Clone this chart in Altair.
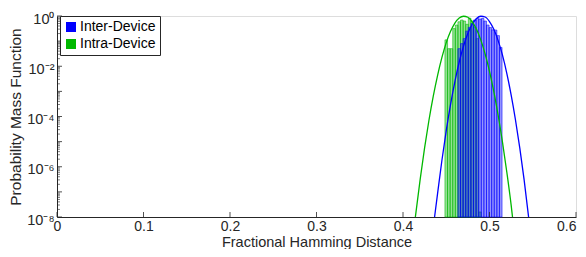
import altair as alt
import pandas as pd

# ---- data ----
inter_curve_x = [0.4365, 0.440, 0.445, 0.450, 0.455, 0.460, 0.465, 0.470, 0.475, 0.480,
                 0.485, 0.490, 0.495, 0.500, 0.505, 0.510, 0.515, 0.520, 0.525, 0.530,
                 0.535, 0.540, 0.5452]
inter_curve_log = [-8.0, -7.06, -5.74, -4.56, -3.52, -2.61, -1.83, -1.20, -0.69, -0.33,
                   -0.10, -0.01, -0.04, -0.22, -0.53, -0.98, -1.56, -2.28, -3.14, -4.13,
                   -5.25, -6.51, -8.0]

intra_curve_x = [0.4143, 0.420, 0.425, 0.430, 0.435, 0.440, 0.445, 0.450, 0.455, 0.460,
                 0.465, 0.470, 0.475, 0.480, 0.485, 0.490, 0.495, 0.500, 0.505, 0.510,
                 0.515, 0.520, 0.525, 0.5266]
intra_curve_log = [-8.0, -6.46, -5.24, -4.15, -3.19, -2.36, -1.65, -1.06, -0.61, -0.28,
                   -0.08, -0.01, -0.05, -0.23, -0.53, -0.96, -1.52, -2.20, -3.01, -3.95,
                   -5.02, -6.21, -7.52, -8.0]

intra_bar_x = [0.450, 0.453, 0.456, 0.459, 0.462, 0.465, 0.468, 0.471, 0.474, 0.477,
               0.480, 0.483, 0.486, 0.489]
intra_bar_log = [-0.95, -1.30, -1.30, -0.50, -0.36, -0.23, -0.16, -0.20, -0.33, -0.09,
                 -0.20, -0.45, -0.90, -7.80]

inter_bar_x = [0.465, 0.468, 0.471, 0.474, 0.477, 0.480, 0.483, 0.486, 0.489, 0.492,
               0.495, 0.498, 0.501, 0.504, 0.507, 0.510, 0.513]
inter_bar_log = [-1.30, -1.10, -0.90, -0.60, -0.45, -0.30, -0.16, -0.10, -0.12, -0.10,
                 -0.20, -0.36, -0.46, -0.55, -0.56, -0.78, -1.25]

bin_width = 0.003
series = ["Inter-Device", "Intra-Device"]
colors = ["#0000ff", "#00b800"]
x_ticks = [0, 0.1, 0.2, 0.3, 0.4, 0.5, 0.6]

# ---- tables ----
curves = pd.DataFrame(
    [{"s": "Inter-Device", "x": x, "v": 10 ** l, "o": i} for i, (x, l) in enumerate(zip(inter_curve_x, inter_curve_log))]
    + [{"s": "Intra-Device", "x": x, "v": 10 ** l, "o": i} for i, (x, l) in enumerate(zip(intra_curve_x, intra_curve_log))]
)
bars = pd.DataFrame(
    [{"s": "Intra-Device", "x0": x - bin_width / 2, "x1": x + bin_width / 2, "v": 10 ** l, "b": 1e-8, "k": 0}
     for x, l in zip(intra_bar_x, intra_bar_log)]
    + [{"s": "Inter-Device", "x0": x - bin_width / 2, "x1": x + bin_width / 2, "v": 10 ** l, "b": 1e-8, "k": 1}
       for x, l in zip(inter_bar_x, inter_bar_log)]
)
major = [10.0 ** d for d in range(-8, 1)]
minor = [k * 10.0 ** d for d in range(-8, 0) for k in range(2, 10)]
yt_major = pd.DataFrame({"t": major})
yt_minor = pd.DataFrame({"t": minor})
xt = pd.DataFrame({"t": x_ticks})

W, H = 519, 201
FONT = "Liberation Sans"
TXT = "#262626"

xscale = alt.Scale(domain=[0, 0.6], nice=False, zero=False)
yscale = alt.Scale(type="log", domain=[1e-8, 1], nice=False)
cscale = alt.Scale(domain=series, range=colors)

label_expr = ("round(log(datum.value)/LN10) == 0 ? '10⁰' : "
              "round(log(datum.value)/LN10) == -2 ? '10⁻²' : "
              "round(log(datum.value)/LN10) == -4 ? '10⁻⁴' : "
              "round(log(datum.value)/LN10) == -6 ? '10⁻⁶' : '10⁻⁸'")

x_axis = alt.Axis(values=x_ticks, format=".1~f", title="Fractional Hamming Distance", grid=False, ticks=False,
                  labelPadding=2, labelFontSize=14, titleFontSize=14.5,
                  labelAlign={"condition": {"test": "datum.value > 0.55", "value": "right"}, "value": "center"},
                  titleBaseline="alphabetic", titleY=29.5,
                  labelColor=TXT, titleColor=TXT, domainColor=TXT, labelFont=FONT, titleFont=FONT,
                  titleFontWeight="normal", labelFlush=False)
y_axis = alt.Axis(values=[1e-8, 1e-6, 1e-4, 1e-2, 1], labelExpr=label_expr,
                  title="Probability Mass Function", grid=False, ticks=False,
                  labelPadding=3, titlePadding=3, labelFontSize=14.5, titleFontSize=15.5,
                  labelOffset=3,
                  labelColor=TXT, titleColor=TXT, domainColor=TXT, labelFont=FONT, titleFont=FONT,
                  titleFontWeight="normal", labelFlush=False)

bar_layer = alt.Chart(bars).mark_rect(fillOpacity=0.42, strokeWidth=0.55).encode(
    x=alt.X("x0:Q", scale=xscale, axis=x_axis),
    x2="x1:Q",
    y=alt.Y("v:Q", scale=yscale, axis=y_axis),
    y2="b:Q",
    color=alt.Color("s:N", scale=cscale, title=None,
                    legend=alt.Legend(orient="none", legendX=3, legendY=0, fillColor="white",
                                      strokeColor="#262626", padding=4, rowPadding=3,
                                      symbolType="square", symbolSize=100, symbolOpacity=1,
                                      symbolStrokeWidth=0, labelFontSize=14, labelFont=FONT,
                                      labelColor="black", labelOffset=2)),
    stroke=alt.Stroke("s:N", scale=cscale, legend=None),
    order=alt.Order("k:Q"),
)

line_layer = alt.Chart(curves).mark_line(strokeWidth=1.3, interpolate="monotone").encode(
    x=alt.X("x:Q", scale=xscale),
    y=alt.Y("v:Q", scale=yscale),
    color=alt.Color("s:N", scale=cscale, legend=None),
    detail="s:N",
    order="o:Q",
)

ytick_major = alt.Chart(yt_major).mark_rule(color=TXT, strokeWidth=0.8).encode(
    y=alt.Y("t:Q", scale=yscale), x=alt.value(0), x2=alt.value(5))
ytick_minor = alt.Chart(yt_minor).mark_rule(color=TXT, strokeWidth=0.6).encode(
    y=alt.Y("t:Q", scale=yscale), x=alt.value(0), x2=alt.value(3))
xtick = alt.Chart(xt).mark_rule(color=TXT, strokeWidth=0.8).encode(
    x=alt.X("t:Q", scale=xscale), y=alt.value(H), y2=alt.value(H - 5))

chart = alt.layer(bar_layer, line_layer, ytick_minor, ytick_major, xtick).properties(
    width=W, height=H,
    autosize=alt.AutoSizeParams(type="none"),
    padding={"left": 49, "top": 8, "right": 2, "bottom": 32},
).configure_view(stroke=None).configure(background="white")

chart.save("out.html", embed_options={"renderer": "svg", "actions": False})
